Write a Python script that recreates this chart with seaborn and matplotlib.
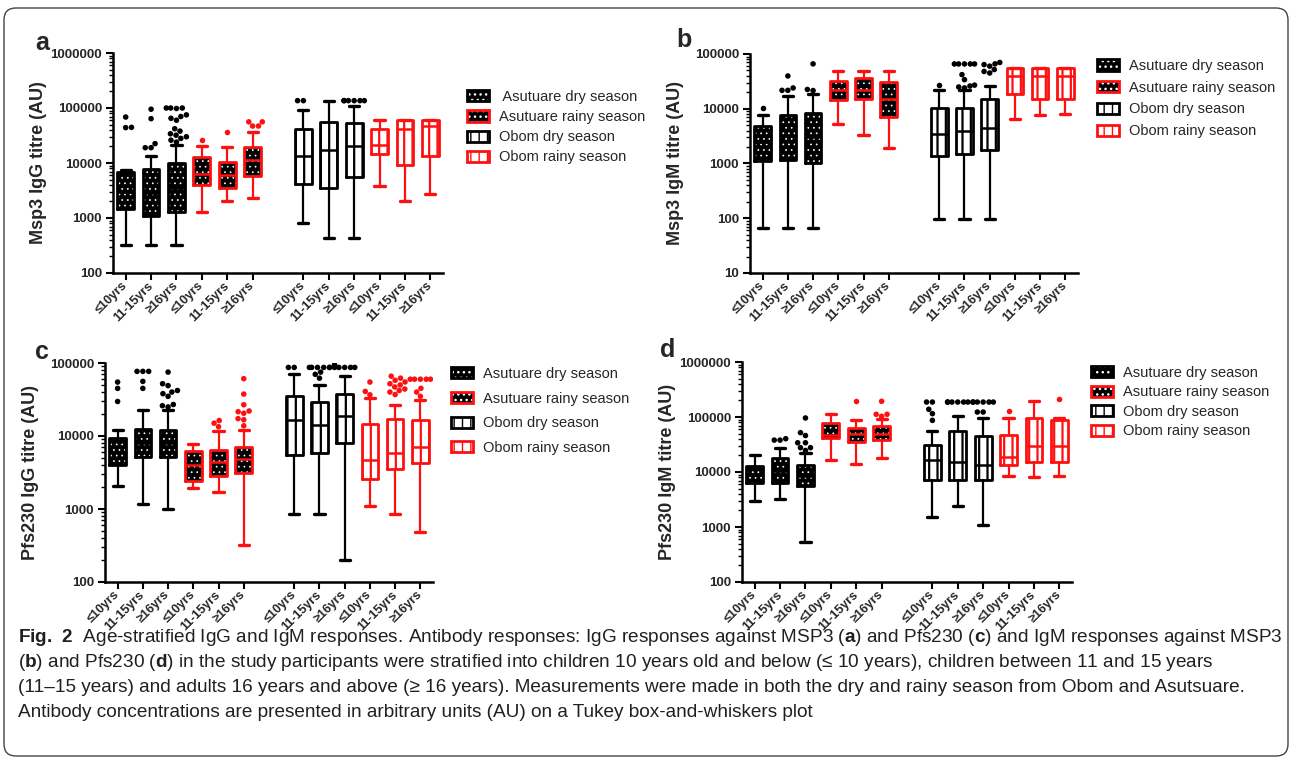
import pandas as pd
import seaborn as sns
import matplotlib.pyplot as plt
from matplotlib.patches import Patch, FancyBboxPatch
from matplotlib.legend_handler import HandlerTuple
from matplotlib.ticker import LogLocator, NullFormatter

AGES = ['≤10yrs', '11-15yrs', '≥16yrs']
GROUPS = ['Asutuare dry season', 'Asutuare rainy season', 'Obom dry season', 'Obom rainy season']

# Tukey box summaries (AU), order: Asutuare dry x3, Asutuare rainy x3, Obom dry x3, Obom rainy x3
# a: Msp3 IgG
A_Q1 = [1460, 1100, 1290, 3930, 3510, 5730, 4090, 3570, 5560, 14800, 9200, 13200]
A_MED = [3000, 2900, 3500, 6400, 6100, 11200, 13200, 17000, 20100, 21500, 41500, 47800]
A_Q3 = [6760, 7780, 10000, 12850, 10300, 19300, 41500, 56500, 53400, 41500, 59700, 59700]
A_LO = [327, 327, 327, 1300, 2010, 2310, 810, 433, 433, 3770, 2070, 2770]
A_HI = [7360, 13200, 21500, 20100, 19550, 36100, 90800, 136000, 110000, 59700, 59700, 59700]
A_OUT = [[68500, 44500, 44000], [95000, 64000, 22500, 19000, 19000],
         [100000, 100000, 100000, 98000, 75000, 70000, 65000, 60000, 42000, 38000, 34000, 32000, 30000, 28000, 26000, 24000],
         [26500], [36600], [56000, 56000, 47000, 47000],
         [136000, 136000], [], [136000] * 6, [], [], []]

# b: Msp3 IgM
B_Q1 = [1100, 1150, 1000, 14700, 15300, 7100, 1360, 1520, 1800, 18900, 15100, 15300]
B_MED = [2500, 3200, 3000, 21700, 21700, 15000, 3520, 3890, 4470, 40300, 40300, 40300]
B_Q3 = [4800, 7830, 8400, 32700, 36000, 30400, 10400, 10400, 15100, 55600, 55600, 55600]
B_LO = [67, 67, 67, 5280, 3250, 1930, 98, 98, 98, 6630, 7600, 8170]
B_HI = [7600, 16900, 18900, 48300, 48300, 48300, 21700, 21700, 25700, 55600, 55600, 55600]
B_OUT = [[10200], [39700, 24000, 21700, 21700], [66000, 22500, 21500], [], [], [],
         [27600], [65800] * 5 + [42000, 34000, 27000, 26000, 25000, 24000],
         [70000, 66000, 64000, 60000, 52000, 48000, 45000], [], [], []]

# c: Pfs230 IgG
C_Q1 = [4010, 5100, 5210, 2440, 2830, 3140, 5500, 5910, 7960, 2570, 3530, 4230]
C_MED = [6000, 8000, 8000, 4000, 4350, 4800, 16600, 14200, 18900, 4700, 5910, 7020]
C_Q3 = [9310, 12500, 12100, 6240, 6440, 7160, 34800, 28800, 37500, 14700, 17200, 16500]
C_LO = [2080, 1170, 1000, 1910, 1690, 326, 849, 849, 202, 1110, 860, 486]
C_HI = [12100, 22800, 22800, 7780, 11700, 12100, 70600, 49300, 67000, 33000, 26200, 31300]
C_OUT = [[54800, 44900, 29700], [76800, 76800, 76800, 56000, 44900],
         [75000, 52000, 49000, 42000, 40000, 38000, 35000, 27000, 26000, 25000],
         [], [16300, 15000, 13400], [61000, 37500, 26800, 22000, 21500, 20500, 17300, 16700, 13800],
         [87000, 87000], [87000] * 6 + [75000, 70000, 62000], [95000] + [87000] * 5,
         [54800, 40800, 36700], [66000, 62000, 58000, 55000, 52000, 50000, 47000, 44000, 42000, 40000, 37000],
         [60000] * 5 + [45000, 40000, 35000]]

# d: Pfs230 IgM
D_Q1 = [6400, 6400, 5480, 41500, 35100, 37700, 7050, 7050, 7050, 13400, 15200, 15200]
D_MED = [9000, 10500, 8500, 48000, 49800, 49800, 16300, 15200, 13600, 18700, 29300, 29800]
D_Q3 = [12700, 18000, 13200, 78800, 64000, 67600, 31400, 55600, 44400, 47800, 96000, 86900]
D_LO = [2970, 3270, 526, 16800, 14200, 18000, 1520, 2410, 1070, 8340, 8110, 8340]
D_HI = [20100, 27700, 22100, 112000, 89600, 93300, 55600, 103000, 97300, 96000, 193000, 96000]
D_OUT = [[], [40300, 38000, 38000], [96000, 51900, 46000, 34000, 34000, 27700, 27700, 24600],
         [], [193000], [193000, 112000, 112000, 103000],
         [187000, 187000, 138000, 115000, 86900], [187000] * 6, [187000] * 6 + [123000, 123000],
         [127000], [], [209000]]

RED = '#ff1010'
# face, hatch, hatch colour, line colour
STYLES = [('black', '...', 'white', 'black'),
          ('black', '...', 'white', RED),
          ('white', '||', 'black', 'black'),
          ('white', '||', RED, RED)]

sns.set_style('ticks')
plt.rcParams['font.family'] = ['Liberation Sans', 'DejaVu Sans']
plt.rcParams['mathtext.fontset'] = 'custom'
plt.rcParams['mathtext.rm'] = 'Liberation Sans'
plt.rcParams['mathtext.bf'] = 'Liberation Sans:bold'

positions = [i + (i >= 6) for i in range(12)]


def draw_panel(ax, q1, med, q3, lo, hi, out, ylim, ylabel):
    ax.set_yscale('log')
    for g, (face, hatch, hcol, lcol) in enumerate(STYLES):
        idx = range(3 * g, 3 * g + 3)
        stats = [dict(q1=q1[i], med=med[i], q3=q3[i], whislo=lo[i], whishi=hi[i], fliers=[]) for i in idx]
        pos = [positions[i] for i in idx]
        fill = ax.bxp(stats, positions=pos, widths=0.66, patch_artist=True, showfliers=False,
                      showcaps=False, manage_ticks=False,
                      boxprops=dict(facecolor=face, edgecolor=hcol, hatch=hatch, linewidth=0),
                      whiskerprops=dict(linewidth=0), medianprops=dict(linewidth=0))
        for b in fill['boxes']:
            if hasattr(b, 'set_hatch_linewidth'):
                b.set_hatch_linewidth(0.5 if hatch == '...' else 1.6)
        ax.bxp(stats, positions=pos, widths=0.66, showfliers=False, manage_ticks=False,
               capwidths=0.4,
               boxprops=dict(color=lcol, linewidth=2.0),
               whiskerprops=dict(color=lcol, linewidth=1.6),
               capprops=dict(color=lcol, linewidth=2.4),
               medianprops=dict(color=lcol, linewidth=1.8))

    rows = []
    for i, vals in enumerate(out):
        colour = 'black' if i in (0, 1, 2, 6, 7, 8) else 'red'
        rows += [dict(pos=positions[i], value=v, colour=colour) for v in vals]
    df = pd.DataFrame(rows)
    sns.swarmplot(data=df, x='pos', y='value', hue='colour', palette={'black': 'black', 'red': RED},
                  native_scale=True, orient='x', size=4, linewidth=0, legend=False, ax=ax)

    ax.set_xlim(-0.5, 12.5)
    ax.set_ylim(*ylim)
    ticks = []
    t = ylim[0]
    while t <= ylim[1]:
        ticks.append(t)
        t *= 10
    ax.set_yticks(ticks, labels=[str(int(v)) for v in ticks], fontweight='bold', fontsize=9.5)
    ax.yaxis.set_minor_locator(LogLocator(base=10, subs=range(2, 10), numticks=20))
    ax.yaxis.set_minor_formatter(NullFormatter())
    ax.set_xticks(positions, labels=AGES * 4, rotation=45, ha='right', va='center',
                  rotation_mode='anchor', fontweight='bold', fontsize=9)
    ax.tick_params(axis='both', which='major', length=5, width=1.5, color='black', pad=3)
    ax.tick_params(axis='y', which='minor', length=3, width=1.0, color='black')
    ax.tick_params(axis='x', which='minor', length=0)
    sns.despine(ax=ax)
    for s in ('left', 'bottom'):
        ax.spines[s].set_linewidth(1.8)
        ax.spines[s].set_color('black')
    ax.set_xlabel('')
    ax.set_ylabel(ylabel, fontsize=13, fontweight='bold')
    ax.yaxis.set_label_coords(-0.2, 0.5)


def legend_handles():
    handles = []
    for face, hatch, hcol, lcol in STYLES:
        fillp = Patch(facecolor=face, edgecolor=hcol, hatch=hatch, linewidth=0)
        edge = Patch(facecolor='none', edgecolor=lcol, linewidth=2.0)
        handles.append((fillp, edge))
    return handles


fig = plt.figure(figsize=(12.9, 7.59), dpi=100)
W, H = 1290, 759


def add_axes(left, right, top, bottom):
    return fig.add_axes([left / W, 1 - bottom / H, (right - left) / W, (bottom - top) / H])


panels = [
    ('a', add_axes(113, 443, 53, 273), (A_Q1, A_MED, A_Q3, A_LO, A_HI, A_OUT), (100, 1000000),
     'Msp3 IgG titre (AU)', (1.073, 0.832), 0.42, (42, 43)),
    ('b', add_axes(750, 1078, 54, 273), (B_Q1, B_MED, B_Q3, B_LO, B_HI, B_OUT), (10, 100000),
     'Msp3 IgM titre (AU)', (1.058, 0.977), 0.53, (684, 40)),
    ('c', add_axes(105, 433, 363, 582), (C_Q1, C_MED, C_Q3, C_LO, C_HI, C_OUT), (100, 100000),
     'Pfs230 IgG titre (AU)', (1.055, 0.982), 0.73, (42, 352)),
    ('d', add_axes(742, 1072, 362, 582), (D_Q1, D_MED, D_Q3, D_LO, D_HI, D_OUT), (100, 1000000),
     'Pfs230 IgM titre (AU)', (1.058, 0.982), 0.37, (668, 350)),
]

for letter, ax, data, ylim, ylabel, anchor, spacing, lpos in panels:
    draw_panel(ax, *data, ylim, ylabel)
    labels = list(GROUPS)
    if letter == 'a':
        labels[0] = ' ' + labels[0]
    ax.legend(legend_handles(), labels, handler_map={tuple: HandlerTuple(ndivide=1, pad=0)},
              loc='upper left', bbox_to_anchor=anchor, frameon=False, fontsize=10.5,
              borderpad=0, borderaxespad=0, handlelength=1.5, handleheight=0.8,
              handletextpad=0.7, labelspacing=spacing)
    fig.text(lpos[0] / W, 1 - lpos[1] / H, letter, fontsize=18, fontweight='bold',
             ha='center', va='center')

# caption
caption = [
    r'$\mathbf{Fig.\ 2}$  Age-stratified IgG and IgM responses. Antibody responses: IgG responses against MSP3 ($\mathbf{a}$) and Pfs230 ($\mathbf{c}$) and IgM responses against MSP3',
    r'($\mathbf{b}$) and Pfs230 ($\mathbf{d}$) in the study participants were stratified into children 10 years old and below (≤ 10 years), children between 11 and 15 years',
    '(11–15 years) and adults 16 years and above (≥ 16 years). Measurements were made in both the dry and rainy season from Obom and Asutsuare.',
    'Antibody concentrations are presented in arbitrary units (AU) on a Tukey box-and-whiskers plot',
]
cap_texts = []
for k, line in enumerate(caption):
    cap_texts.append(fig.text(18 / W, 1 - (638 + 24.7 * k) / H, line, fontsize=13, color='#231f20',
                              ha='left', va='center'))
# fit the first caption line to the width of the frame
renderer = fig.canvas.get_renderer()
scale = 1258 / cap_texts[0].get_window_extent(renderer).width
for t in cap_texts:
    t.set_fontsize(13 * scale)

frame = FancyBboxPatch((0.04, 0.03), 12.84, 7.48, boxstyle='round,pad=0,rounding_size=0.12',
                       transform=fig.dpi_scale_trans, facecolor='none', edgecolor='#444444',
                       linewidth=1.0)
fig.patches.append(frame)

fig.savefig('out.png', dpi=100)
